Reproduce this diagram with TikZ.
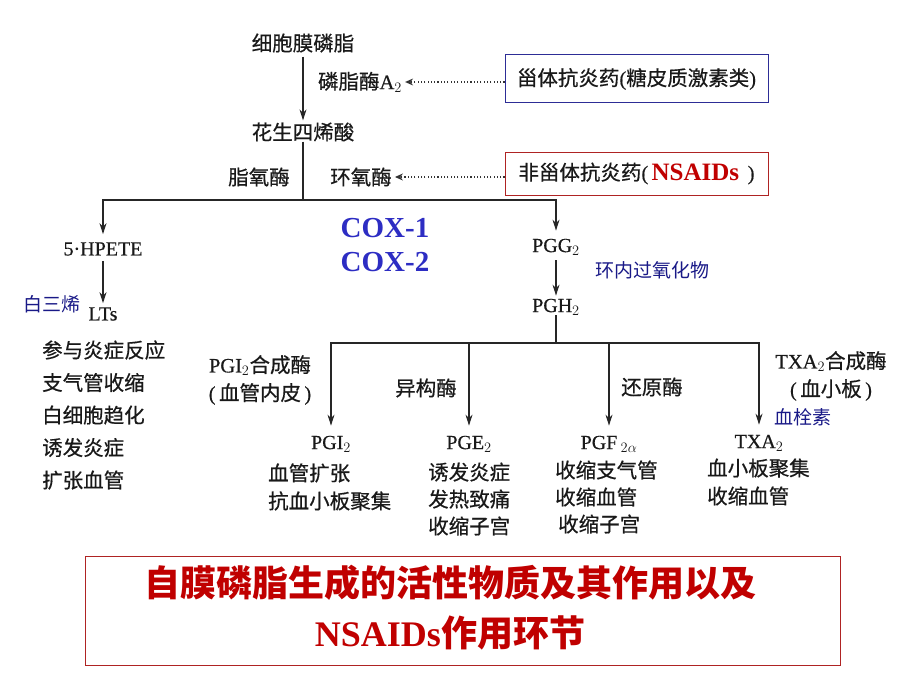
\documentclass[tikz,border=0pt]{standalone}
\usepackage{fontspec}
\setmainfont{Liberation Serif}
\newfontfamily\cjk[FakeBold=0.6]{Noto Sans CJK SC}
\newfontfamily\cjkcap{Noto Sans CJK SC}
\newfontfamily\latlbl[FakeBold=0.5]{Liberation Serif}
\usetikzlibrary{arrows.meta,calc}
\definecolor{boxblue}{RGB}{45,45,150}
\definecolor{boxred}{RGB}{175,35,35}
\definecolor{coxblue}{RGB}{45,45,195}
\definecolor{navy}{RGB}{25,25,135}
\definecolor{darkred}{RGB}{192,0,0}
\newcommand\lat[1]{{\latlbl #1}}
\begin{document}
\begin{tikzpicture}[x=1pt,y=-1pt,
  txt/.style={inner sep=0pt, font=\cjk\fontsize{20.5}{28}\selectfont, text=black!90},
  lbl/.style={inner sep=0pt, font=\latlbl\fontsize{20}{24}\selectfont, text=black!90},
  list/.style={txt, align=left, anchor=west},
  bluelbl/.style={inner sep=0pt, font=\cjkcap\fontsize{19}{22}\selectfont, text=navy},
  arr/.style={line width=1.2pt, draw=black!85, -{Stealth[length=11pt,width=7pt]}},
  ln/.style={line width=1.2pt, draw=black!85},
  dotarr/.style={line width=1.1pt, draw=black!80, dash pattern=on 1.1pt off 2.2pt, -{Stealth[length=8pt,width=7pt]}},
  drugbox/.style={txt, draw, line width=1pt, minimum width=263pt, inner sep=0pt},
]
\useasboundingbox (0,0) rectangle (920,690);

% top chain
\node[txt] (mem) at (303,43) {细胞膜磷脂};
\node[txt] (pla) at (360,82) {磷脂酶\lat{A}$_2$};
\node[drugbox, draw=boxblue, minimum height=48pt] (ster) at (636.5,79) {甾体抗炎药\lat{(}糖皮质激素类\lat{)}};
\node[txt] (ara) at (303,132) {花生四烯酸};
\node[txt] (lox) at (259,177) {脂氧酶};
\node[txt] (cox) at (361,177) {环氧酶};
\node[drugbox, draw=boxred, minimum height=43pt] (nsaid) at (636.5,173.5) {非甾体抗炎药\lat{(\,{\rmfamily\bfseries\color{darkred}\fontsize{25}{25}\selectfont NSAIDs}\, )}};

\draw[arr, shorten <=4pt, shorten >=2pt] (mem) -- (ara);
\draw[dotarr, shorten >=3pt] (ster.west |- pla) -- (pla);
\draw[dotarr, shorten >=3pt] (nsaid.west |- cox) -- (cox);

% first branch
\coordinate (b1) at (303,200);
\draw[ln] (ara) -- (b1);
\node[lbl] (hpete) at (103,249) {5·HPETE};
\node[lbl] (pgg) at (556,247) {PGG$_2$};
\draw[arr, shorten >=8pt] (b1) -| (hpete);
\draw[arr, shorten >=8pt] (b1) -| (pgg);

\node[inner sep=0pt, font=\rmfamily\bfseries\fontsize{29}{34}\selectfont, text=coxblue, align=center] (coxes) at (385,245) {COX-1\\COX-2};

% LT side
\node[lbl] (lts) at (103,314) {LTs};
\node[bluelbl] (lt3) at (52,304) {白三烯};
\draw[arr, shorten <=5pt, shorten >=4pt] (hpete) -- (lts);
\node[list, font=\cjk\fontsize{20.5}{32.5}\selectfont] (ltfx) at (42,415) {参与炎症反应\\支气管收缩\\白细胞趋化\\诱发炎症\\扩张血管};

% PG side
\node[lbl] (pgh) at (556,307) {PGH$_2$};
\node[bluelbl] (endo) at (652,270) {环内过氧化物};
\draw[arr, shorten <=5pt, shorten >=3pt] (pgg) -- (pgh);

\coordinate (b2) at (556,343);
\draw[ln] (pgh) -- (b2);
\node[lbl] (pgi) at (331,444) {PGI$_2$};
\node[lbl] (pge) at (469,444) {PGE$_2$};
\node[lbl] (pgf) at (609,444) {PGF\,$_{2\alpha}$};
\node[lbl] (txa) at (759,443) {TXA$_2$};
\draw[arr, shorten >=10pt] (b2) -| (pgi);
\draw[arr, shorten >=10pt] (b2) -| (pge);
\draw[arr, shorten >=10pt] (b2) -| (pgf);
\draw[arr, shorten >=10pt] (b2) -| (txa);

\node[txt, align=center] (pgisyn) at (260,380) {\lat{PGI}$_2$合成酶\\\lat{(\,}血管内皮\lat{\,)}};
\node[txt] (iso) at (426,388) {异构酶};
\node[txt] (red) at (652,387) {还原酶};
\node[txt, align=center] (txsyn) at (831,376) {\lat{TXA}$_2$合成酶\\\lat{(\,}血小板\lat{\,)}};
\node[bluelbl] (thrombo) at (803,417) {血栓素};

\node[list] (pgifx) at (268,487) {血管扩张\\抗血小板聚集};
\node[list, font=\cjk\fontsize{20.5}{27}\selectfont] (pgefx) at (428,499) {诱发炎症\\发热致痛\\收缩子宫};
\node[list, font=\cjk\fontsize{20.5}{27}\selectfont] (pgffx) at (555,497) {收缩支气管\\收缩血管\\\hspace{3pt}收缩子宫};
\node[list] (txafx) at (707,482) {血小板聚集\\收缩血管};

% caption box
\node[draw=boxred, line width=1pt, minimum width=755pt, minimum height=109pt, inner sep=0pt] (capbox) at (462.5,610.5) {};
\node[inner sep=0pt, align=center, text=darkred, font=\cjkcap\bfseries\fontsize{36}{50}\selectfont] (cap) at (450,608) {自膜磷脂生成的活性物质及其作用以及\\{\rmfamily NSAIDs}作用环节};
\end{tikzpicture}
\end{document}
